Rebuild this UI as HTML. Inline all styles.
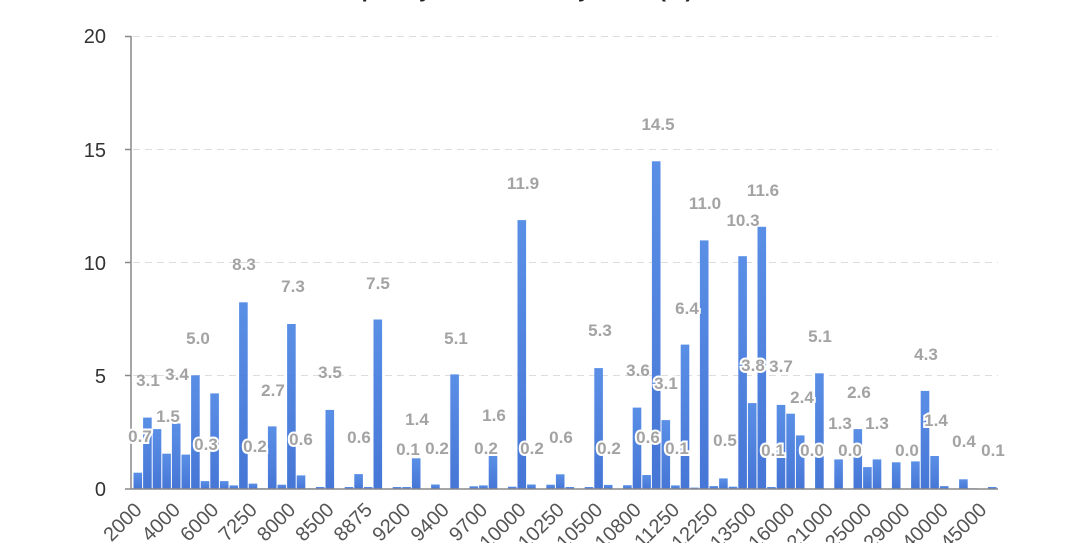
<!DOCTYPE html>
<html><head><meta charset="utf-8"><style>
html,body{margin:0;padding:0;background:#fff;width:1080px;height:543px;overflow:hidden}
svg{display:block;font-family:"Liberation Sans",sans-serif}
.v{font-weight:bold;font-size:17px;fill:#a3a3a3;text-anchor:middle}
.h{stroke:#fff;stroke-width:4;paint-order:stroke}
.x{font-size:20px;fill:#555;text-anchor:end}
.y{font-size:20px;fill:#333;text-anchor:end}
</style></head><body>
<svg width="1080" height="543" xmlns="http://www.w3.org/2000/svg">
<defs><linearGradient id="g" x1="0" y1="0" x2="0" y2="1"><stop offset="0" stop-color="#5a8fe6"/><stop offset="1" stop-color="#4676d6"/></linearGradient></defs>
<text x="95" y="-3" font-size="22" font-weight="bold" fill="#444">Chart</text>
<text x="320" y="-3" font-size="22" font-weight="bold" fill="#222">Frequency distribution by value (%)</text>
<g stroke="#ddd" stroke-dasharray="7,5" stroke-width="1">
<line x1="133" x2="998" y1="36.5" y2="36.5"/><line x1="133" x2="998" y1="149.5" y2="149.5"/>
<line x1="133" x2="998" y1="262.5" y2="262.5"/><line x1="133" x2="998" y1="375.5" y2="375.5"/>
</g>
<g stroke="#888" stroke-width="1.5">
<line x1="131" y1="36" x2="131" y2="489"/>
<line x1="125" y1="36.5" x2="131" y2="36.5"/><line x1="125" y1="149.5" x2="131" y2="149.5"/><line x1="125" y1="262.5" x2="131" y2="262.5"/><line x1="125" y1="375.5" x2="131" y2="375.5"/>
</g>
<text class="y" x="106" y="43">20</text><text class="y" x="106" y="157">15</text><text class="y" x="106" y="270">10</text><text class="y" x="106" y="383">5</text><text class="y" x="106" y="496">0</text>
<g id="bars" fill="url(#g)"></g>
<line x1="125" y1="489" x2="998" y2="489" stroke="#888" stroke-width="1.5"/>
<g id="xl"></g>
<g id="vl"></g>
</svg>
<script>
var d=[0.72,3.16,2.65,1.56,2.9,1.52,5.03,0.35,4.23,0.35,0.16,8.26,0.24,0.03,2.77,0.19,7.3,0.6,0.03,0.09,3.5,0.01,0.09,0.66,0.09,7.5,0.01,0.09,0.09,1.36,0,0.2,0.02,5.07,0.01,0.12,0.16,1.46,0.02,0.1,11.9,0.2,0.01,0.19,0.65,0.09,0.01,0.09,5.35,0.18,0.01,0.17,3.6,0.62,14.5,3.05,0.16,6.39,0.06,11.0,0.13,0.47,0.1,10.3,3.8,11.6,0.09,3.72,3.33,2.37,0.01,5.12,0.01,1.31,0.01,2.65,0.97,1.31,0,1.18,0.01,1.22,4.34,1.46,0.13,0.01,0.43,0.03,0.01,0.09];
var b=document.getElementById("bars"),s="";
d.forEach(function(v,i){var h=v*22.6,x=133+9.6*i;s+='<rect x="'+(x+0.5).toFixed(1)+'" y="'+(489-h).toFixed(1)+'" width="8.6" height="'+h.toFixed(1)+'"/>';});
b.innerHTML=s;
var L=["2000","4000","6000","7250","8000","8500","8875","9200","9400","9700","10000","10250","10500","10800","11250","12250","13500","16000","21000","25000","29000","40000","45000"],t="";
L.forEach(function(l,k){var x=143+38.4*k;t+='<text class="x" transform="translate('+x.toFixed(1)+',511) rotate(-45)">'+l+'</text>';});
document.getElementById("xl").innerHTML=t;
var V=[["0.7",140,436,1],["3.1",148,380],["3.4",177,374],["1.5",168,416,1],["5.0",198,338],["0.3",206,444,1],["8.3",244,264],["0.2",255,446,1],["2.7",273,390],["7.3",293,286],["0.6",301,439,1],["3.5",330,372],["0.6",359,437],["7.5",378,283],["0.1",408,449],["1.4",417,419],["0.2",437,448],["5.1",456,338],["0.2",486,448],["1.6",494,415],["11.9",523,183],["0.2",532,448,1],["0.6",561,437],["5.3",600,330],["0.2",609,448,1],["3.6",638,370],["0.6",648,437,1],["14.5",658,124],["3.1",666,383,1],["0.1",677,448,1],["6.4",687,308,1],["11.0",705,203],["0.5",725,440],["10.3",743,220],["3.8",753,365,1],["11.6",763,190],["0.1",773,450,1],["3.7",781,366],["2.4",802,397,1],["0.0",812,450,1],["5.1",820,336],["1.3",840,423,1],["0.0",850,450,1],["2.6",859,392],["1.3",877,423,1],["0.0",907,450,1],["4.3",926,354],["1.4",936,420,1],["0.4",964,441],["0.1",993,450]],u="";
V.forEach(function(a){u+='<text class="v'+(a[3]?' h':'')+'" x="'+a[1]+'" y="'+(a[2]+6)+'">'+a[0]+'</text>';});
document.getElementById("vl").innerHTML=u;
</script>
</body></html>
